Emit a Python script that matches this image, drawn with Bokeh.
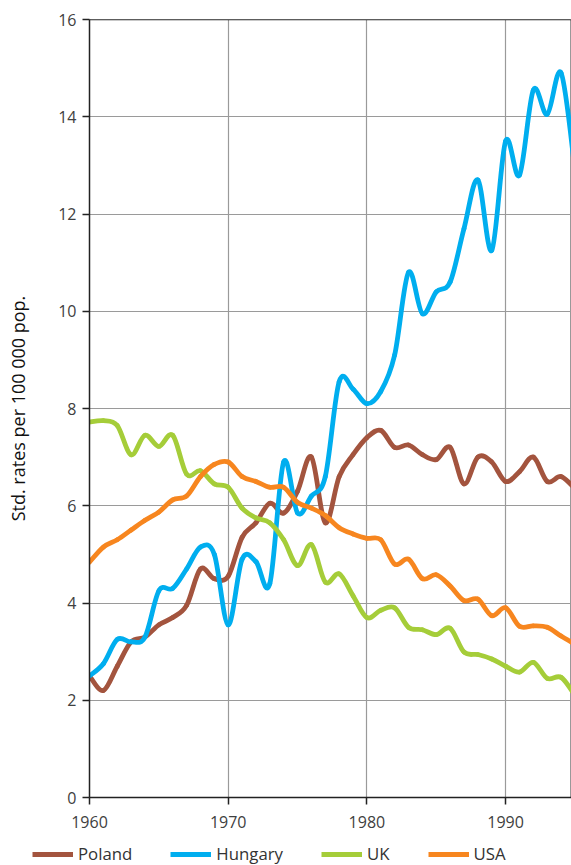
import numpy as np
from bokeh.plotting import figure
from bokeh.layouts import column, row
from bokeh.models import Span, FixedTicker, Legend, LegendItem, ColumnDataSource
from bokeh.embed import file_html
from bokeh.resources import INLINE

years = list(range(1960, 1996))

poland = [2.5, 2.2, 2.7, 3.2, 3.3, 3.55, 3.7, 3.95, 4.7, 4.5,
          4.55, 5.35, 5.65, 6.05, 5.85, 6.3, 7.0, 5.65, 6.6, 7.05,
          7.4, 7.55, 7.2, 7.25, 7.05, 6.95, 7.2, 6.45, 7.0, 6.9,
          6.5, 6.7, 7.0, 6.5, 6.6, 6.35]

hungary = [2.5, 2.75, 3.25, 3.2, 3.3, 4.25, 4.3, 4.7, 5.15, 5.0,
           3.55, 4.9, 4.85, 4.4, 6.9, 5.85, 6.2, 6.6, 8.55, 8.4,
           8.1, 8.35, 9.1, 10.8, 9.95, 10.4, 10.6, 11.7, 12.7, 11.25,
           13.5, 12.8, 14.55, 14.05, 14.9, 12.9]

uk = [7.72, 7.75, 7.65, 7.05, 7.45, 7.22, 7.45, 6.65, 6.72, 6.45,
      6.38, 5.95, 5.75, 5.65, 5.3, 4.77, 5.2, 4.43, 4.6, 4.15,
      3.7, 3.85, 3.9, 3.5, 3.45, 3.35, 3.48, 2.99, 2.94, 2.85,
      2.7, 2.58, 2.78, 2.45, 2.47, 2.1]

usa = [4.84, 5.15, 5.3, 5.5, 5.7, 5.87, 6.12, 6.2, 6.6, 6.85,
       6.9, 6.6, 6.5, 6.38, 6.38, 6.07, 5.95, 5.8, 5.55, 5.42,
       5.33, 5.3, 4.8, 4.9, 4.5, 4.58, 4.35, 4.05, 4.08, 3.74,
       3.9, 3.52, 3.53, 3.5, 3.32, 3.15]

series_names = ["Poland", "Hungary", "UK", "USA"]
series_values = [poland, hungary, uk, usa]
series_colors = ["#A3543E", "#00AEEF", "#A5CD39", "#F7861F"]

x_ticks = [1960, 1970, 1980, 1990]
y_ticks = [0, 2, 4, 6, 8, 10, 12, 14, 16]

FONT = "Open Sans"

p = figure(width=571, height=840, output_backend="svg", toolbar_location=None,
           x_range=(1960, 1994.75), y_range=(0, 16),
           min_border_left=89, min_border_right=0, min_border_top=19,
           min_border_bottom=43)

p.background_fill_color = "white"
p.border_fill_color = "white"
p.outline_line_color = "#999999"
p.outline_line_width = 1


def catmull_bezier(xs, ys):
    xs = np.asarray(xs, dtype=float)
    ys = np.asarray(ys, dtype=float)
    xp = np.concatenate([[xs[0]], xs, [xs[-1]]])
    yp = np.concatenate([[ys[0]], ys, [ys[-1]]])
    n = len(xs)
    d = dict(x0=[], y0=[], x1=[], y1=[], cx0=[], cy0=[], cx1=[], cy1=[])
    for i in range(n - 1):
        j = i + 1
        d["x0"].append(xp[j]); d["y0"].append(yp[j])
        d["x1"].append(xp[j + 1]); d["y1"].append(yp[j + 1])
        d["cx0"].append(xp[j] + (xp[j + 1] - xp[j - 1]) / 6.0)
        d["cy0"].append(yp[j] + (yp[j + 1] - yp[j - 1]) / 6.0)
        d["cx1"].append(xp[j + 1] - (xp[j + 2] - xp[j]) / 6.0)
        d["cy1"].append(yp[j + 1] - (yp[j + 2] - yp[j]) / 6.0)
    return ColumnDataSource(d)


for name, vals, col in zip(series_names, series_values, series_colors):
    src = catmull_bezier(years, vals)
    p.bezier(x0="x0", y0="y0", x1="x1", y1="y1", cx0="cx0", cy0="cy0",
             cx1="cx1", cy1="cy1", source=src, line_color=col,
             line_width=4.8, line_cap="round")

# grid
p.xgrid.ticker = FixedTicker(ticks=x_ticks)
p.ygrid.ticker = FixedTicker(ticks=y_ticks)
p.xgrid.grid_line_color = "#9a9a9a"
p.ygrid.grid_line_color = "#9a9a9a"
p.xgrid.grid_line_width = 1.2
p.ygrid.grid_line_width = 1.2

# axes
p.xaxis.ticker = FixedTicker(ticks=x_ticks)
p.yaxis.ticker = FixedTicker(ticks=y_ticks)
for ax in (p.xaxis[0], p.yaxis[0]):
    ax.axis_line_color = "#222222"
    ax.axis_line_width = 1.5
    ax.major_tick_line_color = "#222222"
    ax.major_tick_line_width = 1.5
    ax.major_tick_in = 0
    ax.major_tick_out = 7
    ax.minor_tick_line_color = None
    ax.major_label_text_font = FONT
    ax.major_label_text_font_size = "16px"
    ax.major_label_text_color = "#404040"

p.xaxis.major_label_standoff = 11
p.yaxis.major_label_standoff = 6
p.yaxis.axis_label = "Std. rates per 100 000 pop."
p.yaxis.axis_label_text_font = FONT
p.yaxis.axis_label_text_font_size = "18px"
p.yaxis.axis_label_text_font_style = "normal"
p.yaxis.axis_label_text_color = "#111111"
p.yaxis.axis_label_standoff = 25

top = Span(location=16, dimension="width", line_color="#222222", line_width=1.5)
p.add_layout(top)

# legend strip below the chart
lg = figure(width=571, height=25, output_backend="svg", toolbar_location=None,
            x_range=(0, 1), y_range=(0, 1),
            x_axis_location=None, y_axis_location=None,
            min_border_left=0, min_border_right=0, min_border_top=0,
            min_border_bottom=0)
lg.outline_line_color = None
lg.xgrid.visible = False
lg.ygrid.visible = False
lg.background_fill_color = "white"
lg.border_fill_color = "white"

items = []
for name, vals, col in zip(series_names, series_values, series_colors):
    r = lg.line(years, vals, line_color=col, line_width=5)
    items.append(LegendItem(label=name, renderers=[r]))

legend = Legend(items=items, orientation="horizontal", location=(32, 0),
                label_text_font=FONT, label_text_font_size="16.8px",
                label_text_color="#333333", glyph_width=41, glyph_height=16,
                label_standoff=5, spacing=38, padding=0, margin=0,
                label_height=16,
                border_line_color=None, background_fill_alpha=0)
lg.add_layout(legend, "center")

layout = column(p, row(lg, spacing=0), spacing=0)

open("out.html", "w").write(file_html(layout, INLINE))
